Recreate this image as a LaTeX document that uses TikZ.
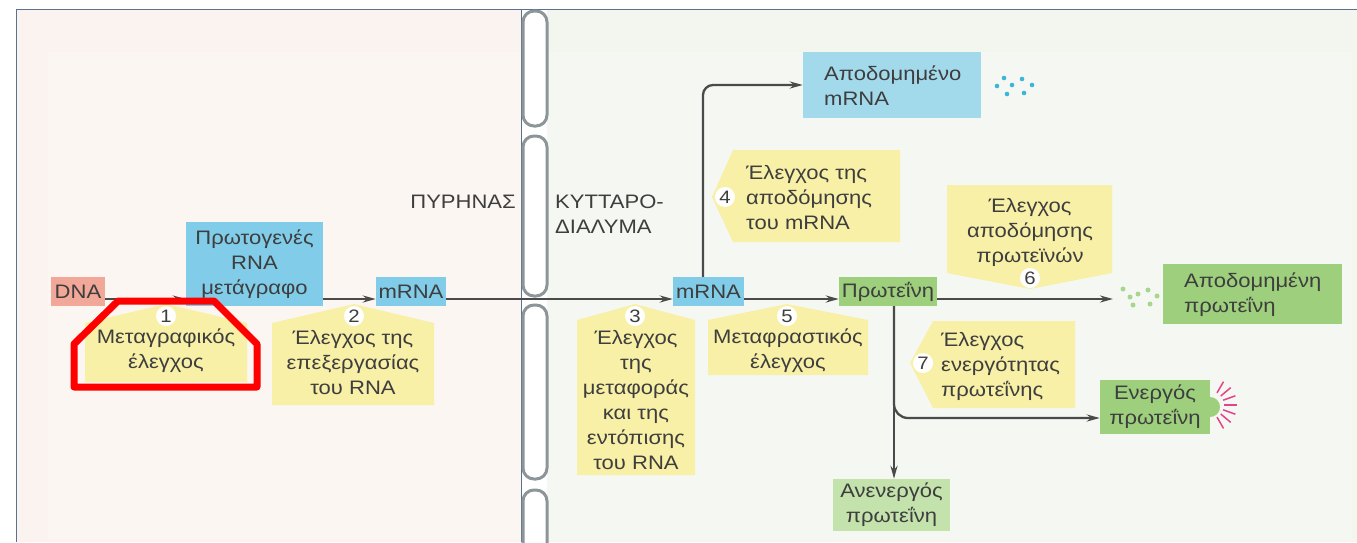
\documentclass[tikz,border=0pt]{standalone}
\usepackage{fontspec}
\setmainfont{Liberation Sans}[FakeStretch=1.13]
\usetikzlibrary{arrows.meta}
\definecolor{txt}{HTML}{3E3E3E}
\definecolor{linec}{HTML}{4A4A4A}
\definecolor{framec}{HTML}{5C7090}
\definecolor{bgleft}{HTML}{FBF3F0}
\definecolor{bgleftin}{HTML}{FCF6F3}
\definecolor{bgright}{HTML}{F2F6EE}
\definecolor{bgrightin}{HTML}{F5F8F2}
\definecolor{dnac}{HTML}{F2A898}
\definecolor{bluec}{HTML}{80CCE9}
\definecolor{bluel}{HTML}{A2DAEC}
\definecolor{greenc}{HTML}{9DCF7C}
\definecolor{greenl}{HTML}{C3E2AC}
\definecolor{yellc}{HTML}{F8F0A6}
\definecolor{pillc}{HTML}{8C9597}
\definecolor{dotb}{HTML}{3BB5D8}
\definecolor{dotg}{HTML}{A8D690}
\definecolor{spikec}{HTML}{E5428C}
\newcommand\dfont{\fontsize{19.5}{25}\selectfont}
\newcommand\nfont{\fontsize{18}{20}\selectfont}
\begin{document}
\begin{tikzpicture}[x=1pt,y=-1pt,
  arr/.style={draw=linec, line width=2.3pt, -{Stealth[length=13pt,width=7pt]}},
  box/.style={inner sep=0pt, font=\dfont, text=txt, align=center},
  lbl/.style={inner sep=0pt, font=\dfont, text=txt},
  num/.style={circle, fill=white, inner sep=0pt, minimum size=20pt, font=\nfont, text=txt},
  pill/.style={draw=pillc, fill=white, line width=3pt, rounded corners=11pt},
  callout/.style={fill=yellc},
  spike/.style={draw=spikec, line width=1.5pt}]
\useasboundingbox (0,0) rectangle (1357,542);
% backgrounds
\fill[white] (0,0) rectangle (1357,542);
\fill[bgleft] (16,9) rectangle (521,542);
\fill[bgleftin] (48,52) rectangle (521,540);
\fill[bgright] (547,9) rectangle (1357,542);
\fill[bgrightin] (547,52) rectangle (1352,540);
\draw[framec, line width=1pt] (16,542) -- (16,9) -- (1357,9);
\draw[framec, line width=1pt] (521,9) -- (521,542);
% membrane
\draw[pill] (523,11) rectangle (547,126);
\draw[pill] (523,136) rectangle (547,296);
\draw[pill] (523,305) rectangle (547,479);
\draw[pill] (523,490) rectangle (547,580);
% labels
\node[lbl, anchor=east] (nuc) at (516,202) {ΠΥΡΗΝΑΣ};
\node[lbl, anchor=west, align=left] (cyt) at (555,214) {ΚΥΤΤΑΡΟ-\\ΔΙΑΛΥΜΑ};
% callout shapes
\fill[callout] (85,323) -- (166,304) -- (247,323) -- (247,382) -- (85,382) -- cycle;
\fill[callout] (272,323) -- (354,304) -- (434,323) -- (434,405) -- (272,405) -- cycle;
\fill[callout] (577,320) -- (635,304) -- (695,320) -- (695,475) -- (577,475) -- cycle;
\fill[callout] (708,320) -- (787,304) -- (868,320) -- (868,375) -- (708,375) -- cycle;
\fill[callout] (712,197) -- (733,150) -- (900,150) -- (900,242) -- (733,242) -- cycle;
\fill[callout] (947,185) -- (1112,185) -- (1112,273) -- (1030,289) -- (947,273) -- cycle;
\fill[callout] (910,363) -- (933,321) -- (1075,321) -- (1075,408) -- (933,408) -- cycle;
% numbers
\node[num] (n1) at (166,316) {1};
\node[num] (n2) at (354,316) {2};
\node[num] (n3) at (635,316) {3};
\node[num] (n5) at (787,316) {5};
\node[num] (n4) at (725,197) {4};
\node[num] (n6) at (1030,278) {6};
\node[num] (n7) at (923,363) {7};
% callout texts
\node[box] (t1) at (166,351) {Μεταγραφικός\\έλεγχος};
\node[box] (t2) at (353,363) {Έλεγχος της\\επεξεργασίας\\του RNA};
\node[box] (t3) at (636,400) {Έλεγχος\\της\\μεταφοράς\\και της\\εντόπισης\\του RNA};
\node[box] (t5) at (788,351) {Μεταφραστικός\\έλεγχος};
\node[box, anchor=west, align=left] (t4) at (746,198) {Έλεγχος της\\αποδόμησης\\του mRNA};
\node[box] (t6) at (1030,232) {Έλεγχος\\αποδόμησης\\πρωτεϊνών};
\node[box, anchor=west, align=left] (t7) at (941,366) {Έλεγχος\\ενεργότητας\\πρωτεΐνης};
% boxes
\node[box, fill=dnac, minimum width=54pt, minimum height=29pt] (dna) at (78,291.5) {DNA};
\node[box, fill=bluec, minimum width=137pt, minimum height=84pt] (prim) at (254.5,264) {Πρωτογενές\\RNA\\μετάγραφο};
\node[box, fill=bluec, minimum width=70pt, minimum height=29pt] (m1) at (411,291.5) {mRNA};
\node[box, fill=bluec, minimum width=71pt, minimum height=29pt] (m2) at (708.5,291.5) {mRNA};
\node[box, fill=greenc, minimum width=98pt, minimum height=29pt] (prot) at (888,291.5) {Πρωτεΐνη};
\node[box, fill=bluel, minimum width=178pt, minimum height=66pt] (degm) at (892,85) {};
\node[lbl, anchor=west, align=left] (degmt) at (824,86) {Αποδομημένο\\mRNA};
\node[box, fill=greenc, minimum width=179pt, minimum height=60pt] (degp) at (1252.5,294) {};
\node[lbl, anchor=west, align=left] (degpt) at (1184,295) {Αποδομημένη\\πρωτεΐνη};
\node[box, fill=greenl, minimum width=117pt, minimum height=52pt] (inact) at (891.5,505) {Ανενεργός\\πρωτεΐνη};
\fill[greenc] (1210,407) circle[radius=10pt];
\node[box, fill=greenc, minimum width=110pt, minimum height=54pt] (act) at (1155,407) {Ενεργός\\πρωτεΐνη};
% spikes
\foreach \a in {-60,-40,...,60} \draw[spike] (1210,405) ++(\a:14) -- ++(\a:13);
% dots
\foreach \p in {(997,86),(1004,78),(1007,94),(1012,85),(1022,79),(1024,93),(1032,85)}
  \fill[dotb] \p circle[radius=2.3pt];
\foreach \p in {(1123,289),(1130,297),(1133,305),(1138,294),(1148,290),(1150,304),(1157,296)}
  \fill[dotg] \p circle[radius=2.5pt];
% connectors
\coordinate (ml) at (0,299);
\coordinate (ux) at (703,0);
\coordinate (vx) at (894,0);
\coordinate (by) at (0,418);
\coordinate (pend) at (1113,299);
\draw[arr] (dna.east |- ml) -- (prim.west |- ml);
\draw[arr] (prim.east |- ml) -- (m1.west |- ml);
\draw[arr] (m1.east |- ml) -- (m2.west |- ml);
\draw[arr] (m2.east |- ml) -- (prot.west |- ml);
\draw[arr] (prot.east |- ml) -- (pend);
\draw[arr, rounded corners=10pt] (m2.north -| ux) |- (degm.west);
\draw[arr] (prot.south -| vx) -- (inact.north -| vx);
\draw[arr, rounded corners=14pt] (prot.south -| vx) |- (act.west |- by);
% highlight
\draw[red, line width=7pt, line join=round] (118,301) -- (214,301) -- (257,344) -- (257,387) -- (74,387) -- (74,344) -- cycle;
\end{tikzpicture}
\end{document}
